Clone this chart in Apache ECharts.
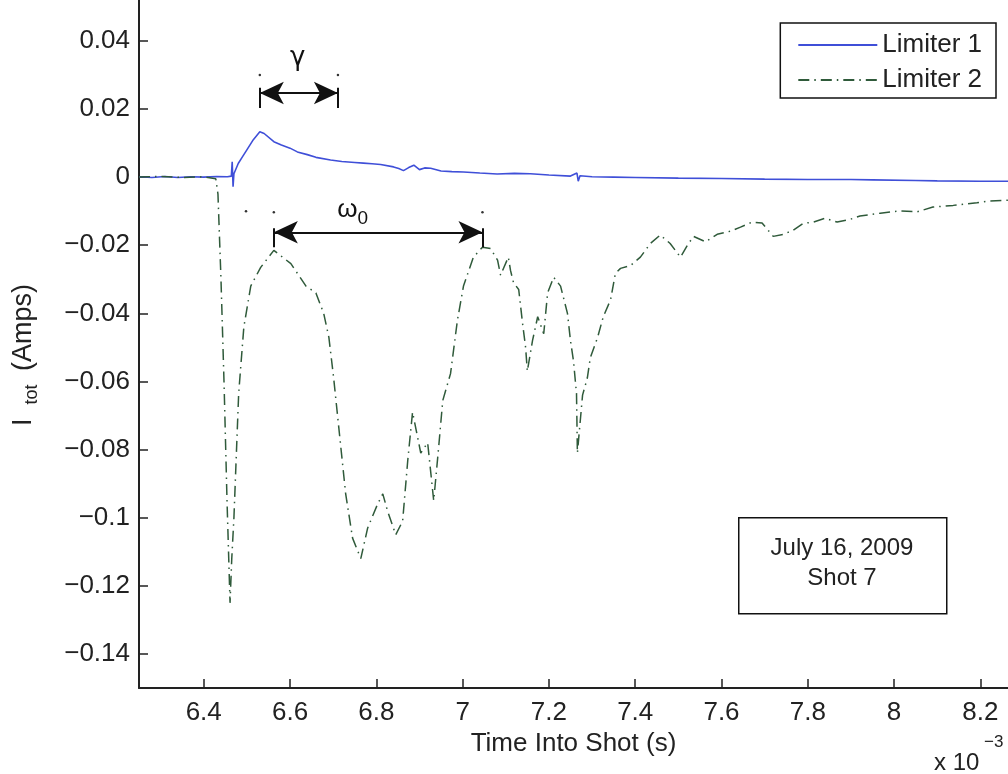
<!DOCTYPE html>
<html><head><meta charset="utf-8">
<script src="https://cdn.jsdelivr.net/npm/echarts@6/dist/echarts.min.js"></script>
<style>html,body{margin:0;padding:0;background:#fff}#c{width:1008px;height:774px}</style>
</head><body><div id="c"></div>
<script>
// Time in units of 1e-3 s, current in Amps
const lim1Time = [6.25,6.28,6.31,6.34,6.37,6.40,6.43,6.455,6.464,6.466,6.468,6.470,6.48,6.49,6.50,6.515,6.53,6.54,6.5625,6.58,6.60,6.617,6.64,6.66,6.694,6.72,6.75,6.77,6.79,6.81,6.84,6.852,6.863,6.875,6.887,6.90,6.912,6.926,6.95,6.975,7.002,7.04,7.08,7.12,7.157,7.20,7.25,7.265,7.268,7.272,7.30,7.35,7.40,7.50,7.60,7.70,7.80,7.90,7.95,8.05,8.10,8.20,8.264];
const lim1Current = [0.0001,-0.0001,0.0002,-0.0001,0.0001,0,0.0002,0.0001,0.0003,0.0045,-0.0028,0.001,0.004,0.006,0.008,0.011,0.0133,0.0128,0.0104,0.0094,0.0085,0.0074,0.0066,0.0058,0.005,0.0046,0.0043,0.0041,0.0039,0.0037,0.003,0.0025,0.0019,0.0028,0.0035,0.0022,0.0027,0.0026,0.0018,0.0016,0.0015,0.0012,0.0009,0.0011,0.001,0.0006,0.0003,0.0012,-0.0012,0.0004,0.0001,0,-0.0001,-0.0003,-0.0004,-0.0006,-0.0007,-0.0007,-0.0008,-0.001,-0.0011,-0.0012,-0.0012];
const lim2Time = [6.25,6.30,6.35,6.40,6.428,6.433,6.440,6.447,6.454,6.461,6.465,6.470,6.481,6.493,6.509,6.532,6.5625,6.602,6.637,6.660,6.678,6.690,6.701,6.713,6.729,6.745,6.764,6.780,6.803,6.815,6.826,6.845,6.861,6.873,6.884,6.903,6.919,6.933,6.944,6.954,6.972,6.988,7.002,7.025,7.046,7.065,7.081,7.088,7.106,7.111,7.118,7.130,7.139,7.146,7.150,7.162,7.174,7.188,7.197,7.211,7.227,7.243,7.250,7.257,7.264,7.266,7.278,7.289,7.296,7.313,7.326,7.343,7.354,7.366,7.389,7.412,7.435,7.458,7.481,7.505,7.521,7.535,7.563,7.590,7.620,7.644,7.671,7.694,7.720,7.743,7.766,7.789,7.813,7.840,7.868,7.898,7.921,7.968,8.014,8.053,8.090,8.137,8.192,8.222,8.264];
const lim2Current = [0,0.0002,-0.0001,0.0001,-0.0005,-0.005,-0.03,-0.06,-0.095,-0.125,-0.112,-0.100,-0.0635,-0.044,-0.032,-0.0265,-0.0215,-0.0254,-0.032,-0.034,-0.040,-0.047,-0.0588,-0.0735,-0.093,-0.106,-0.112,-0.103,-0.096,-0.093,-0.098,-0.105,-0.101,-0.083,-0.069,-0.081,-0.078,-0.095,-0.080,-0.0656,-0.0577,-0.042,-0.032,-0.0235,-0.0206,-0.021,-0.0244,-0.0288,-0.0235,-0.0274,-0.031,-0.033,-0.043,-0.050,-0.057,-0.048,-0.041,-0.046,-0.034,-0.0294,-0.032,-0.040,-0.048,-0.054,-0.0636,-0.081,-0.064,-0.059,-0.053,-0.047,-0.041,-0.036,-0.0283,-0.0268,-0.026,-0.0235,-0.0195,-0.017,-0.0195,-0.0235,-0.020,-0.0174,-0.019,-0.0168,-0.0159,-0.0147,-0.0132,-0.0135,-0.0174,-0.0168,-0.0156,-0.0136,-0.0132,-0.0121,-0.0132,-0.0124,-0.0114,-0.0106,-0.0099,-0.0102,-0.0088,-0.0083,-0.0075,-0.007,-0.0068];
const xTicks = [6.4,6.6,6.8,7,7.2,7.4,7.6,7.8,8,8.2];
const yTicks = [-0.14,-0.12,-0.1,-0.08,-0.06,-0.04,-0.02,0,0.02,0.04];
const seriesNames = ['Limiter 1','Limiter 2'];
// annotation anchors (data space)
const gammaSpan = [6.530, 6.711], gammaY = 0.0247, gammaBar = [0.0262, 0.0203];
const omegaSpan = [6.5625, 7.046], omegaY = -0.0162, omegaBar = [-0.0150, -0.0206];
const gammaLabelAt = [6.618, 0.035], omegaLabelAt = [6.745, -0.0097];
const handleDots = [[6.530, 0.0300], [6.711, 0.0300], [6.5625, -0.0103], [7.046, -0.0103], [6.498, -0.0100]];

const FONT = '"Liberation Sans", Arial, sans-serif';
const FS = 26;
const zip = (a,b) => a.map((v,i)=>[v,b[i]]);
const fmtY = v => Math.abs(v) < 1e-9 ? '0' : String(+v.toFixed(2)).replace('-', '\u2212');
const fmtX = v => String(+v.toFixed(1));
const arrowEnd = (x, y) => ({coord: [x, y], symbol: 'arrow', symbolSize: [17, 24]});
const plainEnd = (x, y) => ({coord: [x, y], symbol: 'none'});

const chart = echarts.init(document.getElementById('c'));
chart.setOption({
  backgroundColor: '#fff',
  animation: false,
  grid: {left: 139, right: 0, top: 0, bottom: 86},
  legend: {
    data: seriesNames, right: 12, top: 23, orient: 'vertical', align: 'left',
    padding: [7, 14, 3, 17], itemGap: 5, itemWidth: 79, itemHeight: 14,
    borderColor: '#111', borderWidth: 1.5, backgroundColor: '#fff',
    itemStyle: {opacity: 0},
    textStyle: {fontFamily: FONT, fontSize: FS, lineHeight: 30, color: '#222'}
  },
  xAxis: {
    type: 'value', min: 6.25, max: 8.264,
    name: 'Time Into Shot (s)', nameLocation: 'middle', nameGap: 42,
    nameTextStyle: {fontFamily: FONT, fontSize: FS, color: '#222'},
    axisLine: {onZero: false, lineStyle: {color: '#222', width: 2}},
    axisTick: {inside: true, length: 9, customValues: xTicks, lineStyle: {color: '#222', width: 1.5}},
    axisLabel: {customValues: xTicks, formatter: fmtX, margin: 12, fontFamily: FONT, fontSize: FS, color: '#222'},
    splitLine: {show: false}
  },
  yAxis: {
    type: 'value', min: -0.15, max: 0.052,
    name: '{a|I}{b|tot}{a| (Amps)}', nameLocation: 'middle', nameGap: 98, nameRotate: 90,
    nameTextStyle: {padding: [0, 22, 0, 0], rich: {
      a: {fontFamily: FONT, fontSize: 27, color: '#222', lineHeight: 34, verticalAlign: 'middle'},
      b: {fontFamily: FONT, fontSize: 18, color: '#222', lineHeight: 34, verticalAlign: 'bottom', padding: [0, 6, 0, 14]}
    }},
    axisLine: {show: true, onZero: false, lineStyle: {color: '#222', width: 2}},
    axisTick: {show: true, inside: true, length: 9, customValues: yTicks, lineStyle: {color: '#222', width: 1.5}},
    axisLabel: {customValues: yTicks, formatter: fmtY, margin: 9, fontFamily: FONT, fontSize: FS, color: '#222'},
    splitLine: {show: false}
  },
  series: [
    {name: seriesNames[0], type: 'line', data: zip(lim1Time, lim1Current), symbol: 'none',
     lineStyle: {color: '#3f4fd8', width: 1.6}, itemStyle: {color: '#3f4fd8'}, z: 2},
    {name: seriesNames[1], type: 'line', data: zip(lim2Time, lim2Current), symbol: 'none',
     lineStyle: {color: '#2f5a3a', width: 1.5, type: [11, 5, 1.5, 5]}, itemStyle: {color: '#2f5a3a'}, z: 3},
    {name: 'annot', type: 'line', data: [], symbol: 'none', z: 5,
     markLine: {
       silent: true, animation: false, label: {show: false},
       lineStyle: {color: '#111', width: 2, type: 'solid'},
       data: [
         [arrowEnd(gammaSpan[0], gammaY), arrowEnd(gammaSpan[1], gammaY)],
         [arrowEnd(omegaSpan[0], omegaY), arrowEnd(omegaSpan[1], omegaY)],
         [plainEnd(gammaSpan[0], gammaBar[0]), plainEnd(gammaSpan[0], gammaBar[1])],
         [plainEnd(gammaSpan[1], gammaBar[0]), plainEnd(gammaSpan[1], gammaBar[1])],
         [plainEnd(omegaSpan[0], omegaBar[0]), plainEnd(omegaSpan[0], omegaBar[1])],
         [plainEnd(omegaSpan[1], omegaBar[0]), plainEnd(omegaSpan[1], omegaBar[1])]
       ]
     },
     markPoint: {
       silent: true, symbol: 'circle', symbolSize: 0,
       label: {show: true, position: 'inside', color: '#111', fontFamily: FONT},
       data: [
         {coord: gammaLabelAt, label: {formatter: '\u03b3', fontSize: FS, fontFamily: '"DejaVu Sans", sans-serif'}},
         {coord: omegaLabelAt, label: {formatter: '{a|\u03c9}{b|0}', rich: {
           a: {fontFamily: FONT, fontSize: FS, color: '#111', lineHeight: 36, verticalAlign: 'middle'},
           b: {fontFamily: FONT, fontSize: 19, color: '#111', lineHeight: 36, verticalAlign: 'bottom'}}}}
       ].concat(handleDots.map(c => ({coord: c, symbol: 'circle', symbolSize: 2.5,
         itemStyle: {color: '#333'}, label: {show: false}})))
     }}
  ],
  graphic: [
    {type: 'rect', left: 738, top: 517, shape: {width: 208, height: 96},
     style: {fill: '#fff', stroke: '#111', lineWidth: 1.5}, z: 10},
    {type: 'text', z: 11, x: 842, y: 548, style: {text: 'July 16, 2009', font: '24px ' + FONT, fill: '#222', align: 'center', verticalAlign: 'middle'}},
    {type: 'text', z: 11, x: 842, y: 578, style: {text: 'Shot 7', font: '24px ' + FONT, fill: '#222', align: 'center', verticalAlign: 'middle'}},
    {type: 'text', z: 11, x: 934, y: 763, style: {text: 'x 10', font: '24px ' + FONT, fill: '#222', align: 'left', verticalAlign: 'middle'}},
    {type: 'text', z: 11, x: 984, y: 742, style: {text: '\u22123', font: '17px ' + FONT, fill: '#222', align: 'left', verticalAlign: 'middle'}}
  ]
});
</script></body></html>
